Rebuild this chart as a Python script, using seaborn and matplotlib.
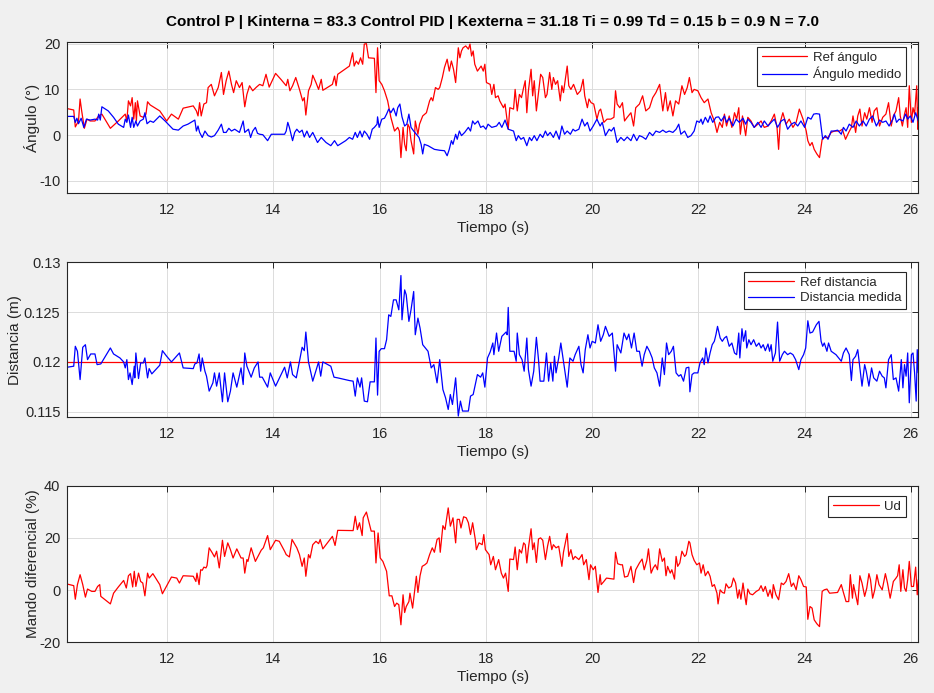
import matplotlib
matplotlib.use("Agg")
import matplotlib.pyplot as plt
import seaborn as sns
import pandas as pd

# ---------------- data ----------------
ref_ang_t = [
    10.12, 10.24, 10.27, 10.33, 10.36, 10.39, 10.44, 10.49, 10.55, 10.64,
    10.71, 10.77, 10.93, 11.08, 11.21, 11.24, 11.27, 11.31, 11.34, 11.37,
    11.40, 11.42, 11.44, 11.49, 11.55, 11.60, 11.63, 11.68, 11.86, 11.99,
    12.08, 12.21, 12.30, 12.49, 12.55, 12.58, 12.61, 12.64, 12.69, 12.74,
    12.77, 12.83, 12.89, 12.96, 13.02, 13.06, 13.11, 13.16, 13.21, 13.25,
    13.30, 13.36, 13.41, 13.46, 13.50, 13.55, 13.61, 13.68, 13.74, 13.80,
    13.86, 13.92, 14.04, 14.14, 14.24, 14.27, 14.31, 14.36, 14.42, 14.49,
    14.55, 14.58, 14.61, 14.66, 14.71, 14.74, 14.80, 14.85, 14.90, 14.93,
    15.11, 15.15, 15.18, 15.21,
    15.43, 15.49, 15.52, 15.56, 15.60, 15.64, 15.68, 15.71, 15.75, 15.79,
    15.90, 15.93, 15.96, 15.99, 16.04, 16.09, 16.15, 16.21, 16.28, 16.34,
    16.37, 16.40, 16.44, 16.47, 16.50, 16.53, 16.56, 16.59, 16.64, 16.67,
    16.72, 16.75, 16.81, 16.88, 16.94, 16.97, 17.00, 17.05, 17.10, 17.13,
    17.18, 17.22, 17.27, 17.31, 17.35, 17.39, 17.43, 17.48, 17.51, 17.54,
    17.57, 17.62, 17.67, 17.70, 17.73, 17.76, 17.79, 17.84, 17.91, 17.95,
    17.98, 18.01, 18.08, 18.11, 18.15, 18.18, 18.23, 18.26, 18.33, 18.36,
    18.42, 18.45, 18.52, 18.55, 18.59, 18.63, 18.67, 18.71, 18.74, 18.77,
    18.80, 18.85, 18.88, 18.91, 18.95, 18.99, 19.03, 19.07, 19.12, 19.15,
    19.20, 19.24, 19.27, 19.31, 19.35, 19.40, 19.43, 19.46, 19.53, 19.56,
    19.60, 19.65, 19.72, 19.78, 19.83, 19.86, 19.91, 19.94, 19.98, 20.03,
    20.09, 20.13, 20.16, 20.22, 20.28, 20.35, 20.41, 20.44, 20.47, 20.52,
    20.57, 20.61, 20.66, 20.73, 20.78, 20.82,
    20.89, 20.95, 21.01, 21.08, 21.14, 21.20, 21.27, 21.33, 21.38, 21.42,
    21.47, 21.52, 21.57, 21.63, 21.69, 21.74, 21.79, 21.83, 21.88, 21.92,
    21.99, 22.05, 22.11, 22.18, 22.24, 22.30, 22.35, 22.40, 22.45, 22.49,
    22.53, 22.58, 22.63, 22.68, 22.72, 22.76, 22.79, 22.83, 22.89, 22.93,
    22.99, 23.05, 23.12, 23.18, 23.24, 23.31, 23.37, 23.43, 23.48, 23.51,
    23.54, 23.59, 23.65, 23.71, 23.78, 23.84, 23.90, 23.97, 24.03, 24.06,
    24.10, 24.14, 24.18, 24.23, 24.28, 24.33, 24.37, 24.44, 24.50, 24.56,
    24.66, 24.71, 24.77, 24.83, 24.88, 24.91, 24.96, 25.00, 25.04, 25.08,
    25.13, 25.17, 25.22, 25.27, 25.31, 25.36, 25.41, 25.47, 25.53, 25.58,
    25.63, 25.67, 25.72, 25.77, 25.80, 25.84, 25.88, 25.91, 25.94, 25.97,
    26.01, 26.04, 26.07, 26.11, 26.13, 26.14,
]
ref_ang = [
    5.8, 5.5, 1.8, 3.1, 7.9, 5.3, 1.5, 3.5, 3.1, 3.1,
    4.2, 4.6, 1.5, 3.1, 4.6, 3.1, 7.5, 6.4, 8.2, 3.5,
    7.1, 3.1, 7.5, 4.2, 3.9, 4.6, 7.3, 6.6, 5.3, 3.1,
    4.6, 3.5, 5.9, 6.4, 5.3, 4.2, 7.1, 4.2, 6.8, 7.1,
    10.4, 11.1, 8.6, 10.4, 13.7, 8.9, 11.9, 14.0, 11.1, 9.3,
    11.9, 10.4, 11.5, 6.2, 8.9, 10.8, 9.7, 10.5, 11.1, 10.8,
    13.3, 10.5, 13.5, 12.2, 10.8, 12.2, 9.7, 10.8, 12.6, 10.0,
    7.5, 8.2, 4.4, 9.7, 11.1, 13.1, 11.5, 10.0, 12.2, 9.8,
    11.1, 12.9, 10.8, 13.3,
    15.1, 18.0, 15.1, 16.2, 15.5, 16.9, 15.5, 19.9, 20.0, 16.9,
    16.8, 9.3, 19.1, 11.9, 11.1, 9.7, 7.5, 3.9, 0.9, 1.7,
    0.9, -4.9, 1.7, -2.0, -3.4, 2.4, 1.7, -1.2, -4.1, 3.1,
    0.2, 2.4, 4.2, 4.9, 7.5, 8.2, 7.5, 10.4, 10.0, 10.4,
    12.6, 14.8, 16.6, 14.0, 16.2, 14.4, 11.5, 19.1, 16.9, 18.4,
    19.1, 19.5, 18.8, 19.9, 17.3, 18.4, 15.5, 14.0, 15.1, 14.0,
    15.5, 11.5, 11.1, 8.9, 11.1, 8.2, 8.6, 7.5, 6.0, 6.8,
    1.3, 6.0, 5.7, 10.0, 5.3, 8.9, 8.2, 10.4, 11.9, 4.9,
    9.7, 14.4, 8.6, 11.9, 5.3, 9.3, 13.3, 12.6, 8.2, 8.9,
    13.7, 10.0, 12.6, 11.1, 11.9, 7.5, 10.8, 9.3, 15.1, 10.8,
    10.0, 11.1, 8.9, 9.7, 12.2, 8.6, 6.0, 7.9, 7.1, 6.8,
    3.5, 5.3, 5.7, 2.8, 3.5, 3.5, 3.9, 9.7, 6.8, 6.0,
    7.1, 3.1, 3.9, 4.9, 2.0, 6.0,
    6.8, 8.6, 5.3, 6.0, 8.2, 9.3, 11.1, 5.3, 9.3, 5.3,
    7.5, 4.2, 7.5, 6.8, 10.8, 8.9, 10.4, 12.6, 9.3, 10.0,
    9.7, 8.2, 7.1, 7.9, 4.9, 3.1, 0.6, 2.8, 1.7, 4.6,
    2.0, 4.2, 1.7, 4.9, 3.5, 6.0, 0.2, 4.2, -0.1, 3.9,
    3.1, 1.7, 2.4, 3.1, 1.7, 2.0, 3.1, 4.6, 1.7, -3.1,
    2.8, 4.9, 2.4, 3.5, 1.7, 2.8, 5.7, 3.5, 0.9, -1.2,
    -2.3, -1.6, -3.1, -4.1, -4.9, -0.9, -0.5, -0.5, 0.6, 0.9,
    0.9, 1.3, -0.9, 0.6, 1.7, 4.2, 0.6, 4.2, 5.7, 2.0,
    4.9, 3.5, 6.0, 2.8, 5.3, 6.0, 2.0, 3.9, 4.6, 7.1,
    2.0, 4.2, 5.3, 8.2, 4.2, 2.0, 4.6, 6.0, 1.7, 10.8,
    2.8, 6.0, 4.6, 10.8, 1.3, 6.0,
]

ang_med_t = [
    10.12, 10.24, 10.27, 10.30, 10.33, 10.38, 10.43, 10.48, 10.55, 10.64,
    10.69, 10.71, 10.74, 10.77, 10.89, 10.99, 11.08, 11.18, 11.21, 11.24,
    11.27, 11.31, 11.34, 11.37, 11.41, 11.44, 11.49, 11.55, 11.58, 11.62,
    11.68, 11.74, 11.86, 11.96, 12.11, 12.21, 12.30, 12.39, 12.52, 12.55,
    12.58, 12.61, 12.66, 12.71, 12.77, 12.83, 12.89, 12.96, 13.02, 13.06,
    13.11, 13.16, 13.21, 13.27, 13.36, 13.43, 13.46, 13.53, 13.57, 13.61,
    13.66, 13.70, 13.74, 13.80, 13.89, 13.96, 14.11, 14.21, 14.24, 14.27,
    14.30, 14.36, 14.40, 14.44, 14.49, 14.54, 14.58, 14.63, 14.68, 14.74,
    14.83, 14.90, 14.99, 15.08, 15.15, 15.21, 15.36,
    15.43, 15.49, 15.54, 15.58, 15.63, 15.67, 15.71, 15.76, 15.81, 15.86,
    15.90, 15.95, 15.96, 15.99, 16.04, 16.09, 16.13, 16.17, 16.21, 16.26,
    16.31, 16.34, 16.38, 16.42, 16.47, 16.51, 16.55, 16.59, 16.64, 16.69,
    16.74, 16.78, 16.81, 16.84, 16.91, 16.97, 17.03, 17.13, 17.22, 17.27,
    17.31, 17.35, 17.38, 17.43, 17.46, 17.50, 17.54, 17.60, 17.67, 17.71,
    17.75, 17.79, 17.85, 17.90, 17.95, 18.00, 18.04, 18.11, 18.20, 18.25,
    18.30, 18.36, 18.42, 18.52, 18.57, 18.61, 18.66, 18.71, 18.77, 18.82,
    18.86, 18.91, 18.96, 19.02, 19.07, 19.12, 19.16, 19.21, 19.27, 19.32,
    19.38, 19.43, 19.48, 19.53, 19.59, 19.64, 19.68, 19.75, 19.81, 19.86,
    19.91, 19.96, 20.02, 20.09, 20.15, 20.19, 20.25, 20.32, 20.36, 20.41,
    20.47, 20.54, 20.60, 20.66, 20.73, 20.78, 20.84,
    20.89, 20.95, 21.01, 21.08, 21.14, 21.20, 21.27, 21.33, 21.39, 21.45,
    21.52, 21.58, 21.63, 21.67, 21.74, 21.80, 21.86, 21.92, 21.97, 22.02,
    22.05, 22.08, 22.13, 22.18, 22.22, 22.27, 22.33, 22.38, 22.43, 22.49,
    22.53, 22.58, 22.65, 22.71, 22.77, 22.84, 22.89, 22.93, 22.99, 23.05,
    23.12, 23.18, 23.24, 23.31, 23.37, 23.43, 23.49, 23.56, 23.62, 23.68,
    23.75, 23.81, 23.87, 23.93, 24.00, 24.06, 24.12, 24.17, 24.22, 24.28,
    24.34, 24.39, 24.44, 24.50, 24.56, 24.62, 24.69, 24.73, 24.78, 24.84,
    24.91, 24.97, 25.03, 25.10, 25.16, 25.22, 25.28, 25.35, 25.41, 25.47,
    25.53, 25.59, 25.66, 25.69, 25.73, 25.78, 25.85, 25.90, 25.94, 25.99,
    26.04, 26.09, 26.14,
]
ang_med = [
    4.1, 4.1, 2.8, 3.7, 2.5, 3.7, 1.7, 3.5, 3.3, 3.5,
    3.3, 4.6, 3.3, 6.2, 5.3, 3.9, 2.4, 1.7, 3.5, 2.8,
    4.4, 1.7, 3.9, 1.7, 3.1, 2.0, 3.1, 3.5, 4.9, 2.5,
    3.1, 2.8, 4.2, 3.1, 1.3, 1.1, 2.0, 2.4, 3.3, 0.9,
    2.0, 0.6, -0.5, 0.9, -0.1, -0.4, -0.1, 1.1, 2.4, 0.6,
    0.6, 1.5, 0.9, 1.3, 0.6, 3.1, 0.6, 1.3, -0.5, 0.9,
    1.7, 0.4, 0.2, 0.1, -1.2, 0.2, 0.2, 0.2, 0.9, 2.8,
    1.7, -1.2, 0.6, 1.3, 0.6, 1.1, -0.4, 0.9, -0.5, 0.6,
    -1.6, -0.5, -1.6, -2.3, -1.2, -2.3, -1.2,
    -0.5, -0.9, 0.6, -0.5, 0.9, -0.4, 0.9, 0.2, -0.9, 1.3,
    1.7, 2.4, 4.0, 1.7, 3.5, 3.7, 4.6, 5.7, 4.9, 5.9,
    4.2, 6.0, 6.8, 4.0, 2.0, 2.4, 4.6, 1.7, 0.9, 0.2,
    -0.5, -2.0, -4.1, -2.0, -2.3, -2.7, -3.1, -3.3, -3.4, -4.5,
    -3.1, -1.2, -2.0, 0.2, -0.9, 0.9, -0.1, 0.6, 1.7, 0.9,
    3.1, 2.4, 3.1, 1.7, 2.0, 1.3, 2.4, 1.7, 2.0, 2.8,
    1.7, 3.3, 1.3, 0.9, -1.2, -0.1, -0.9, -0.5, -2.3, -0.5,
    -1.2, -0.1, -1.2, 0.2, -0.5, 0.9, -0.1, 0.6, -0.5, 0.9,
    -0.9, 2.0, 0.2, 0.9, 0.2, 1.3, 0.9, 1.3, 3.5, 2.0,
    2.8, 0.9, 2.0, 3.5, 2.0, 2.8, -0.1, 1.3, 0.9, 1.7,
    -1.6, -0.5, -1.2, -0.4, -1.2, 0.2, -1.2,
    -0.1, -0.4, -0.9, 0.6, -0.1, 0.9, 0.6, 1.1, 0.6, 0.9,
    0.6, 1.3, 2.4, 0.2, 0.9, -0.5, -0.1, 0.9, 3.1, 2.8,
    3.5, 2.4, 3.9, 2.8, 4.2, 2.8, 3.9, 4.0, 3.1, 4.2,
    2.8, 3.7, 2.0, 3.5, 2.8, 3.7, 2.4, 3.5, 2.8, 1.7,
    2.8, 1.7, 3.1, 2.0, 2.8, 3.5, 1.7, 3.1, 3.5, 1.3,
    2.4, 2.8, 2.0, 3.1, 1.7, 3.9, 3.5, 4.6, 4.7, 4.6,
    -0.9, -0.1, -0.9, 0.9, 0.9, 1.1, 0.2, 1.7, 0.9, 2.4,
    1.7, 3.1, 2.0, 3.1, 2.0, 3.5, 4.2, 2.0, 3.3, 2.8,
    3.1, 2.0, 3.5, 4.6, 2.8, 3.5, 3.1, 4.6, 3.5, 4.2,
    2.8, 4.9, 3.1,
]

dist_ref_t = [10.12, 26.14]
dist_ref = [0.12, 0.12]

dist_med_t = [
    10.12, 10.24, 10.27, 10.31, 10.36, 10.41, 10.46, 10.50, 10.56, 10.64,
    10.68, 10.75, 10.93, 10.99, 11.11, 11.18, 11.21, 11.24, 11.27, 11.30,
    11.34, 11.38, 11.39, 11.41, 11.46, 11.50, 11.55, 11.58, 11.63, 11.66,
    11.71, 11.86, 11.91, 11.99, 12.08, 12.23, 12.30, 12.49, 12.52, 12.56,
    12.60, 12.63, 12.66, 12.71, 12.74, 12.79, 12.86, 12.89, 12.93, 12.98,
    13.04, 13.08, 13.14, 13.19, 13.24, 13.31, 13.39, 13.43, 13.46, 13.50,
    13.58, 13.64, 13.71, 13.74, 13.79, 13.89, 13.94, 14.04, 14.21, 14.26,
    14.32, 14.36, 14.43, 14.54, 14.58, 14.61, 14.66, 14.74, 14.85, 14.89,
    14.93, 15.08, 15.14, 15.21,
    15.43, 15.50, 15.54, 15.58, 15.63, 15.66, 15.71, 15.77, 15.82, 15.90,
    15.93, 15.96, 15.99, 16.03, 16.09, 16.13, 16.17, 16.21, 16.26, 16.31,
    16.36, 16.40, 16.42, 16.47, 16.50, 16.55, 16.59, 16.64, 16.67, 16.72,
    16.76, 16.81, 16.86, 16.91, 16.97, 17.02, 17.08, 17.13, 17.19, 17.24,
    17.29, 17.33, 17.37, 17.43, 17.48, 17.52, 17.56, 17.67, 17.71, 17.76,
    17.84, 17.90, 17.94, 17.98, 18.03, 18.08, 18.13, 18.15, 18.20, 18.24,
    18.30, 18.38, 18.40, 18.42, 18.45, 18.53, 18.57, 18.59, 18.63, 18.68,
    18.72, 18.77, 18.80, 18.85, 18.90, 18.95, 18.99, 19.02, 19.09, 19.14,
    19.18, 19.22, 19.26, 19.29, 19.32, 19.37, 19.41, 19.46, 19.53, 19.58,
    19.64, 19.68, 19.75, 19.79, 19.83, 19.87, 19.92, 19.96, 20.00, 20.06,
    20.11, 20.16, 20.21, 20.25, 20.32, 20.38, 20.44, 20.47, 20.54, 20.60,
    20.65, 20.69, 20.74, 20.79, 20.84,
    20.89, 20.94, 20.98, 21.03, 21.08, 21.13, 21.17, 21.22, 21.27, 21.32,
    21.36, 21.40, 21.44, 21.49, 21.53, 21.58, 21.63, 21.67, 21.72, 21.77,
    21.82, 21.84, 21.88, 21.92, 21.99, 22.03, 22.08, 22.11, 22.14, 22.18,
    22.22, 22.26, 22.30, 22.33, 22.36, 22.41, 22.45, 22.49, 22.53, 22.58,
    22.63, 22.68, 22.72, 22.76, 22.78, 22.82, 22.85, 22.89, 22.91, 22.95,
    22.99, 23.04, 23.09, 23.14, 23.18, 23.22, 23.26, 23.31, 23.34, 23.37,
    23.40, 23.45, 23.49, 23.53, 23.58, 23.62, 23.68, 23.73, 23.78, 23.83,
    23.89, 23.93, 23.98, 24.02, 24.06, 24.10, 24.15, 24.22, 24.27, 24.31,
    24.34, 24.37, 24.42, 24.45, 24.50, 24.59, 24.69, 24.73, 24.78, 24.84,
    24.88, 24.91, 24.96, 25.00, 25.05, 25.08, 25.13, 25.16, 25.21, 25.26,
    25.30, 25.36, 25.41, 25.46, 25.50, 25.53, 25.58, 25.63, 25.67, 25.72,
    25.77, 25.82, 25.85, 25.88, 25.91, 25.94, 25.97, 26.01, 26.04, 26.07,
    26.10, 26.12, 26.14,
]
dist_med = [
    0.11947, 0.11957, 0.12157, 0.12107, 0.11823, 0.12147, 0.12173, 0.12023, 0.1208, 0.1208,
    0.11973, 0.1198, 0.1214, 0.1208, 0.1204, 0.12, 0.1194, 0.12023, 0.11823, 0.1189,
    0.11773, 0.11957, 0.1184, 0.1209, 0.11833, 0.1199, 0.1199, 0.1204, 0.1184, 0.11933,
    0.1188, 0.11967, 0.12113, 0.12057, 0.12, 0.1209, 0.1194, 0.11933, 0.1198, 0.1199,
    0.1208, 0.11907, 0.1204, 0.11907, 0.11857, 0.11707, 0.1179, 0.1189, 0.11757, 0.1189,
    0.116, 0.1189, 0.116, 0.11707, 0.1189, 0.11747, 0.1194, 0.11773, 0.1209, 0.11957,
    0.11847, 0.1194, 0.12, 0.11847, 0.11847, 0.11747, 0.1189, 0.11757, 0.11947, 0.1184,
    0.12, 0.11873, 0.1184, 0.12147, 0.12113, 0.123, 0.12, 0.11807, 0.12, 0.11857,
    0.12, 0.11957, 0.11847, 0.1184,
    0.11813, 0.11807, 0.11657, 0.1184, 0.11747, 0.1184, 0.11607, 0.116, 0.118, 0.118,
    0.1224, 0.11667, 0.12107, 0.12133, 0.12133, 0.12223, 0.12473, 0.12457, 0.12623, 0.12623,
    0.12523, 0.12867, 0.12423, 0.12723, 0.12673, 0.12407, 0.12523, 0.12707, 0.12273, 0.1244,
    0.1234, 0.12173, 0.1214, 0.12107, 0.1194, 0.11973, 0.1179, 0.12023, 0.11723, 0.1164,
    0.11523, 0.11673, 0.11573, 0.1184, 0.11457, 0.11607, 0.11507, 0.11507, 0.11657, 0.11673,
    0.11873, 0.11847, 0.1189, 0.11747, 0.1204, 0.121, 0.1219, 0.12073, 0.1229, 0.12107,
    0.12257, 0.123, 0.12273, 0.12547, 0.12107, 0.12107, 0.12007, 0.1229, 0.12073, 0.12023,
    0.11907, 0.1224, 0.11923, 0.11757, 0.11907, 0.12247, 0.12023, 0.11807, 0.11807, 0.1209,
    0.11807, 0.1199, 0.11807, 0.12057, 0.1189, 0.1204, 0.1219, 0.12007, 0.11747, 0.1204,
    0.12007, 0.12073, 0.12157, 0.11973, 0.1189, 0.12123, 0.12273, 0.1214, 0.12207, 0.1219,
    0.12373, 0.12207, 0.12273, 0.12357, 0.12257, 0.1229, 0.11907, 0.12173, 0.1209, 0.1229,
    0.12223, 0.1228, 0.1214, 0.1229, 0.12107,
    0.12107, 0.11957, 0.12073, 0.12157, 0.12107, 0.1204, 0.1194, 0.1189, 0.11757, 0.1204,
    0.11873, 0.1219, 0.12073, 0.12107, 0.12157, 0.1189, 0.11857, 0.11873, 0.11807, 0.1194,
    0.11947, 0.117, 0.11873, 0.1189, 0.1189, 0.1199, 0.1204, 0.11973, 0.1214, 0.1199,
    0.1209, 0.12173, 0.12207, 0.12273, 0.12357, 0.1224, 0.12207, 0.1224, 0.12257, 0.12157,
    0.1219, 0.1209, 0.12073, 0.1229, 0.1204, 0.12333, 0.12207, 0.12313, 0.1214, 0.12223,
    0.12173, 0.12223, 0.12157, 0.1219, 0.1214, 0.12173, 0.12113, 0.1218, 0.12107, 0.12173,
    0.12007, 0.1209, 0.124, 0.12007, 0.12073, 0.12107, 0.12073, 0.1209, 0.12073, 0.12023,
    0.11923, 0.12023, 0.12073, 0.1214, 0.12413, 0.1229, 0.123, 0.12373, 0.12407, 0.12207,
    0.12157, 0.1219, 0.12107, 0.1219, 0.12107, 0.12073, 0.12007, 0.1209, 0.1214, 0.12073,
    0.11813, 0.12023, 0.12057, 0.12123, 0.1189, 0.11757, 0.11973, 0.11907, 0.11757, 0.1194,
    0.1184, 0.11807, 0.11907, 0.11857, 0.1184, 0.1174, 0.12023, 0.12073, 0.11823, 0.1184,
    0.11707, 0.12023, 0.1174, 0.11973, 0.11857, 0.1209, 0.1159, 0.12073, 0.1209, 0.1189,
    0.11607, 0.12123, 0.1189,
]

ud_t = [
    10.12, 10.24, 10.27, 10.31, 10.36, 10.41, 10.46, 10.50, 10.58, 10.64,
    10.69, 10.73, 10.75, 10.93, 10.99, 11.08, 11.18, 11.23, 11.27, 11.31,
    11.35, 11.38, 11.41, 11.46, 11.50, 11.54, 11.58, 11.63, 11.66, 11.73,
    11.86, 11.91, 12.08, 12.18, 12.23, 12.30, 12.49, 12.54, 12.56, 12.60,
    12.63, 12.66, 12.69, 12.73, 12.75, 12.79, 12.85, 12.89, 12.93, 12.98,
    13.04, 13.08, 13.14, 13.19, 13.24, 13.31, 13.39, 13.43, 13.46, 13.50,
    13.52, 13.58, 13.66, 13.77, 13.81, 13.89, 13.94, 14.04, 14.11, 14.21,
    14.24, 14.30, 14.35, 14.44, 14.49, 14.54, 14.58, 14.61, 14.66, 14.69,
    14.74, 14.80, 14.85, 14.88, 14.93, 15.11, 15.16, 15.21,
    15.43, 15.50, 15.54, 15.58, 15.62, 15.67, 15.69, 15.75, 15.84, 15.90,
    15.93, 15.97, 16.01, 16.06, 16.13, 16.18, 16.23, 16.28, 16.32, 16.36,
    16.40, 16.44, 16.47, 16.50, 16.55, 16.57, 16.62, 16.69, 16.72, 16.76,
    16.80, 16.85, 16.89, 16.94, 16.99, 17.03, 17.08, 17.12, 17.14, 17.19,
    17.23, 17.29, 17.33, 17.38, 17.43, 17.46, 17.50, 17.53, 17.58, 17.63,
    17.67, 17.71, 17.75, 17.80, 17.82, 17.87, 17.93, 17.96, 17.99, 18.06,
    18.09, 18.14, 18.18, 18.24, 18.29, 18.33, 18.37, 18.42, 18.45, 18.52,
    18.55, 18.59, 18.63, 18.67, 18.71, 18.74, 18.77, 18.80, 18.85, 18.88,
    18.91, 18.95, 18.99, 19.03, 19.07, 19.12, 19.16, 19.20, 19.24, 19.27,
    19.32, 19.37, 19.43, 19.46, 19.53, 19.56, 19.60, 19.64, 19.68, 19.75,
    19.81, 19.84, 19.89, 19.94, 19.97, 20.02, 20.06, 20.11, 20.15, 20.17,
    20.22, 20.27, 20.41, 20.44, 20.48, 20.54, 20.57, 20.61, 20.67, 20.73,
    20.78, 20.82,
    20.89, 20.94, 20.98, 21.03, 21.06, 21.11, 21.15, 21.19, 21.23, 21.27,
    21.32, 21.36, 21.39, 21.42, 21.47, 21.50, 21.55, 21.58, 21.61, 21.65,
    21.69, 21.74, 21.77, 21.82, 21.84, 21.88, 21.92, 21.97, 22.02, 22.05,
    22.09, 22.13, 22.18, 22.22, 22.26, 22.30, 22.35, 22.37, 22.41, 22.45,
    22.49, 22.52, 22.57, 22.62, 22.66, 22.70, 22.74, 22.77, 22.80, 22.84,
    22.87, 22.90, 22.93, 22.97, 23.02, 23.09, 23.14, 23.18, 23.22, 23.26,
    23.31, 23.35, 23.39, 23.41, 23.46, 23.51, 23.56, 23.60, 23.65, 23.70,
    23.75, 23.79, 23.84, 23.89, 23.93, 23.98, 24.03, 24.06, 24.10, 24.14,
    24.18, 24.23, 24.28, 24.33, 24.37, 24.42, 24.47, 24.62, 24.69, 24.73,
    24.78, 24.83, 24.86, 24.90, 24.92, 24.96, 25.00, 25.04, 25.08, 25.13,
    25.17, 25.21, 25.24, 25.28, 25.32, 25.36, 25.40, 25.46, 25.52, 25.56,
    25.61, 25.67, 25.72, 25.75, 25.78, 25.81, 25.85, 25.88, 25.91, 25.94,
    25.97, 26.01, 26.05, 26.09, 26.12, 26.14,
]
ud = [
    2.3, 1.7, -3.5, 2.1, 5.9, 2.1, -2.7, 0.4, -0.5, -0.5,
    1.4, 2.1, -2.4, -5.3, -1.2, 1.2, 3.7, 0.8, 5.5, 6.3,
    1.2, 7.2, 1.4, 6.5, 3.3, 2.7, -2.2, 6.5, 4.6, 6.3,
    2.1, -1.4, 5.0, 4.6, 2.7, 5.5, 5.3, 3.3, 6.5, 2.1,
    7.8, 7.6, 8.8, 8.5, 9.4, 16.2, 14.2, 12.7, 14.9, 8.5,
    19.1, 12.9, 18.1, 15.5, 12.3, 15.8, 12.3, 12.3, 6.5, 11.7,
    11.0, 16.2, 11.0, 15.3, 16.2, 20.9, 15.5, 19.1, 18.7, 14.9,
    13.6, 12.7, 19.4, 16.2, 13.6, 9.1, 12.3, 5.3, 13.6, 12.3,
    17.4, 18.7, 17.8, 19.4, 15.8, 20.6, 17.1, 22.9,
    22.8, 22.8, 28.3, 23.2, 25.8, 20.9, 27.7, 29.9, 22.6, 22.6,
    10.4, 21.9, 12.3, 11.0, 7.2, -2.2, -2.2, -6.3, -5.0, -5.6,
    -13.3, -1.8, -8.6, -6.3, -4.4, -1.2, -6.9, 5.3, -0.9, 5.5,
    9.1, 9.7, 10.4, 13.6, 16.2, 14.5, 19.4, 20.0, 14.5, 24.7,
    23.2, 31.5, 24.5, 27.7, 18.1, 27.1, 27.1, 23.8, 28.1, 27.7,
    25.8, 21.3, 25.8, 19.4, 15.5, 18.1, 17.4, 21.3, 15.5, 13.6,
    9.7, 12.9, 7.8, 11.7, 6.5, 4.6, 6.5, -0.5, 11.9, 11.7,
    16.5, 7.8, 15.5, 14.2, 18.1, 17.4, 10.4, 16.2, 23.5, 15.5,
    18.1, 10.6, 19.6, 20.0, 19.1, 11.7, 16.8, 20.6, 15.5, 17.4,
    16.2, 16.8, 9.1, 14.5, 21.7, 12.9, 15.5, 11.7, 12.9, 11.7,
    13.6, 9.7, 11.7, 4.0, 9.7, 7.8, 9.1, -0.9, 5.9, 2.1,
    3.3, 4.6, 4.2, 14.5, 10.1, 9.7, 9.7, 5.0, 5.3, 9.1,
    2.9, 7.8,
    10.4, 11.9, 7.8, 11.4, 15.8, 6.5, 8.5, 9.7, 7.8, 15.8,
    11.0, 12.3, 5.5, 9.1, 6.5, 7.8, 4.2, 12.9, 9.1, 10.4,
    14.9, 12.9, 13.6, 18.7, 18.1, 13.6, 11.4, 9.7, 10.4, 6.5,
    9.7, 5.5, 7.2, 5.3, 1.4, 2.1, -1.2, -5.3, 0.1, -0.9,
    -1.2, 2.4, 0.8, 1.4, 4.6, 2.7, -3.1, 0.1, -3.5, 2.7,
    -1.8, -5.6, 0.4, -1.4, -1.8, -0.5, 0.1, 1.7, -0.5, 1.4,
    -2.4, 0.1, -3.1, 2.1, -1.8, -3.7, 2.7, 2.1, 3.3, 6.3,
    1.4, 2.7, 0.1, 5.5, 4.0, 1.4, 1.2, -11.2, -6.3, -6.9,
    -11.4, -12.9, -14.0, -0.5, 0.1, 0.4, -1.2, -0.9, 2.1, -0.9,
    -4.4, -4.4, 5.9, -3.1, 2.1, -1.8, -5.6, 5.5, 2.7, -2.4,
    0.8, 6.3, 4.0, -3.1, 0.1, 5.9, 2.1, 0.1, 6.3, 2.7,
    -3.1, 3.3, 4.6, 5.5, 9.7, -0.5, 7.8, 0.8, -0.5, 4.0,
    11.0, 1.4, 1.4, 8.8, -1.8, 4.0,
]

x_ticks = [12, 14, 16, 18, 20, 22, 24, 26]
title_text = ("Control P | Kinterna = 83.3 Control PID | Kexterna = 31.18 "
              "Ti = 0.99 Td = 0.15 b = 0.9 N = 7.0")

# ---------------- style ----------------
sns.set_theme(style="white")
plt.rcParams["font.family"] = ["Liberation Sans", "DejaVu Sans"]
plt.rcParams["axes.unicode_minus"] = False

fig = plt.figure(figsize=(9.34, 6.93), dpi=100, facecolor="#f0f0f0")

positions = [
    [0.0721, 0.7211, 0.9111, 0.2179],
    [0.0721, 0.3978, 0.9111, 0.2237],
    [0.0721, 0.0732, 0.9111, 0.2259],
]
axes = [fig.add_axes(p) for p in positions]

XLIM = (10.12, 26.14)
LW = 0.9
TXT = "#262626"


def style_axis(ax):
    ax.set_facecolor("white")
    ax.set_xlim(*XLIM)
    ax.set_xticks(x_ticks)
    ax.grid(True, color="#dcdcdc", linewidth=0.7)
    ax.set_axisbelow(True)
    for s in ax.spines.values():
        s.set_color(TXT)
        s.set_linewidth(0.8)
    ax.tick_params(direction="in", length=4, width=0.7, colors=TXT,
                   labelsize=10.5, top=True, right=True, labelcolor=TXT)
    ax.tick_params(axis="x", pad=7)
    ax.tick_params(axis="y", pad=5)
    ax.set_xlabel("Tiempo (s)", fontsize=11, color=TXT, labelpad=3)


def legend(ax, ytop):
    lg = ax.legend(loc="upper right", bbox_to_anchor=(0.9855, ytop),
                   fontsize=9.5, frameon=True, fancybox=False,
                   edgecolor=TXT, framealpha=1, handlelength=3.45,
                   borderpad=0.35, labelspacing=0.25, handletextpad=0.45,
                   borderaxespad=0.0)
    lg.get_frame().set_linewidth(0.8)


# Panel 1
ax = axes[0]
df_ref_ang = pd.DataFrame({"t": ref_ang_t, "v": ref_ang})
df_ang_med = pd.DataFrame({"t": ang_med_t, "v": ang_med})
sns.lineplot(data=df_ref_ang, x="t", y="v", ax=ax, color="#ff0000", lw=LW,
             sort=False, estimator=None, label="Ref ángulo")
sns.lineplot(data=df_ang_med, x="t", y="v", ax=ax, color="#0000ff", lw=LW,
             sort=False, estimator=None, label="Ángulo medido")
style_axis(ax)
ax.set_ylim(-12.7, 20.3)
ax.set_yticks([-10, 0, 10, 20])
ax.set_ylabel("Ángulo (°)", fontsize=11, color=TXT)
ax.yaxis.set_label_coords(-0.0327, 0.5)
ax.set_title(title_text, fontsize=11, fontweight="bold", color="#000000",
             pad=12)
legend(ax, 0.971)

# Panel 2
ax = axes[1]
df_dist_ref = pd.DataFrame({"t": dist_ref_t, "v": dist_ref})
df_dist_med = pd.DataFrame({"t": dist_med_t, "v": dist_med})
sns.lineplot(data=df_dist_ref, x="t", y="v", ax=ax, color="#ff0000", lw=LW,
             sort=False, estimator=None, label="Ref distancia")
sns.lineplot(data=df_dist_med, x="t", y="v", ax=ax, color="#0000ff", lw=LW,
             sort=False, estimator=None, label="Distancia medida")
style_axis(ax)
ax.set_ylim(0.11444, 0.13)
ax.set_yticks([0.115, 0.12, 0.125, 0.13])
ax.set_yticklabels(["0.115", "0.12", "0.125", "0.13"])
ax.set_ylabel("Distancia (m)", fontsize=11, color=TXT)
ax.yaxis.set_label_coords(-0.0535, 0.5)
legend(ax, 0.939)

# Panel 3
ax = axes[2]
df_ud = pd.DataFrame({"t": ud_t, "v": ud})
sns.lineplot(data=df_ud, x="t", y="v", ax=ax, color="#ff0000", lw=LW,
             sort=False, estimator=None, label="Ud")
style_axis(ax)
ax.set_ylim(-20, 40)
ax.set_yticks([-20, 0, 20, 40])
ax.set_ylabel("Mando diferencial (%)", fontsize=11, color=TXT)
ax.yaxis.set_label_coords(-0.0327, 0.5)
legend(ax, 0.936)

fig.savefig("out.png", dpi=100, facecolor=fig.get_facecolor())
